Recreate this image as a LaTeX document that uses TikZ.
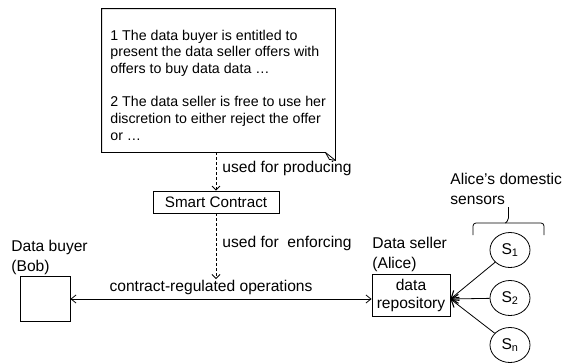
\documentclass[tikz,border=0pt]{standalone}
\usepackage{fontspec}
\setmainfont{Liberation Sans}
\usetikzlibrary{arrows.meta,shapes.geometric}
\begin{document}
\begin{tikzpicture}[x=1pt,y=-1pt,
  font=\fontsize{15.6}{19.5}\selectfont,
  line width=0.8pt,
  plainbox/.style={draw, inner sep=0pt},
  lbl/.style={inner sep=0pt, align=left},
  sensor/.style={draw, ellipse, minimum width=40pt, minimum height=35pt, inner sep=0pt},
  dasharrow/.style={dash pattern=on 3pt off 2pt, -{Straight Barb[length=4pt,width=8pt]}},
  arr/.style={-{Straight Barb[length=7pt,width=9pt,line width=1.1pt]}},
  arrboth/.style={{Straight Barb[length=5pt,width=8pt]}-{Straight Barb[length=5pt,width=8pt]}}]
\useasboundingbox (0,0) rectangle (563,362);

% note with folded corner
\node[minimum width=233pt, minimum height=143pt, inner sep=0pt] (notebox) at (218.5,80.5) {};
\draw (notebox.north west) -- (notebox.north east) -- ([yshift=-8pt]notebox.south east)
  -- ([xshift=-10pt]notebox.south east) -- (notebox.south west) -- cycle;
\draw ([xshift=-10pt]notebox.south east) .. controls ([xshift=-8pt,yshift=-4pt]notebox.south east) .. ([xshift=-6pt,yshift=-7pt]notebox.south east) -- ([yshift=-8pt]notebox.south east);
\node[lbl, anchor=north west, font=\fontsize{14.2}{16.7}\selectfont] (notetext) at (110,29.5)
  {1 The data buyer is entitled to\\present the data seller offers with\\offers to buy data data …\\[16.7pt]2 The data seller is free to use her\\discretion to either reject the offer\\or …};

% smart contract
\node[plainbox, minimum width=126pt, minimum height=22pt, font=\fontsize{15.2}{18}\selectfont] (sc) at (216,202) {Smart Contract};
\draw[dasharrow] (notebox.south -| sc.north) -- (sc.north);
\node[lbl, anchor=west] (prodlbl) at (222,168) {used for producing};
\coordinate (enf) at (216,279);
\draw[dasharrow] (sc.south) -- (enf);
\node[lbl, anchor=west] (enflbl) at (222,243) {used for\ \ enforcing};

% buyer
\node[plainbox, minimum width=50pt, minimum height=45pt] (bob) at (45,299) {};
\node[lbl, anchor=north west] (boblbl) at (11,240) {Data buyer\\(Bob)};

% seller
\node[plainbox, minimum width=78pt, minimum height=42pt, align=center, font=\fontsize{15.6}{17.5}\selectfont] (repo) at (411,295.5) {data\\repository};
\node[lbl, anchor=north west] (alicelbl) at (372,237) {Data seller\\(Alice)};

\draw[arrboth] (bob.east) -- (bob.east -| repo.west)
  node[midway, above, inner sep=4pt, xshift=-10pt] (oplbl) {contract-regulated operations};

% sensors
\node[sensor] (s1) at (510,250) {S\textsubscript{1}};
\node[sensor] (s2) at (510,298) {S\textsubscript{2}};
\node[sensor] (sn) at (510,345) {S\textsubscript{n}};
\coordinate (hub) at (repo.east |- bob.east);
\draw[arr] (s1) -- (hub);
\draw[arr] (s2) -- (hub);
\draw[arr] (sn) -- (hub);

% brace and label
\draw[rounded corners=3pt] (473,235) -- (473,223) -- (544,223) -- (544,235);
\draw[rounded corners=2pt] (505.5,223) -- (508.5,220) -- (508.5,207);
\node[lbl, anchor=north west] (senslbl) at (450,173) {Alice’s domestic\\sensors};
\end{tikzpicture}
\end{document}
